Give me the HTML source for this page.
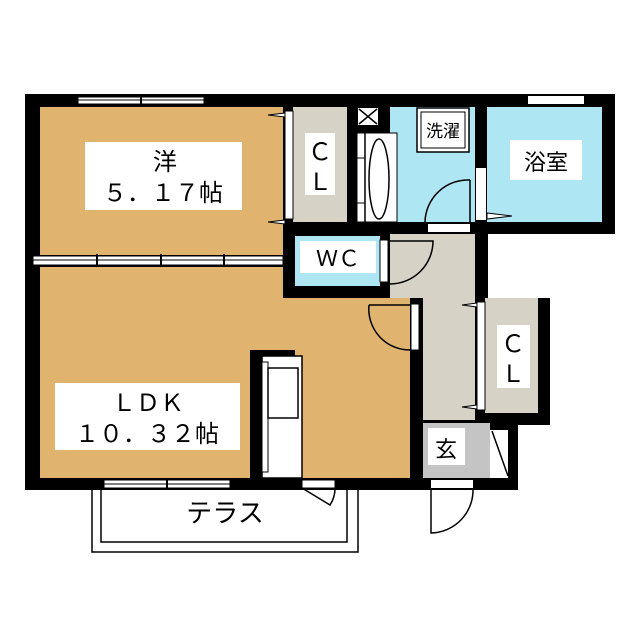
<!DOCTYPE html>
<html><head><meta charset="utf-8"><style>html,body{margin:0;padding:0;background:#fff}svg{display:block}text{font-family:"Liberation Sans","Noto Sans CJK JP",sans-serif;fill:#000}</style></head><body>
<svg width="640" height="640" viewBox="0 0 640 640" xmlns="http://www.w3.org/2000/svg">
<rect x="92" y="482" width="266" height="70" fill="#fff" stroke="#000" stroke-width="1.5"/>
<rect x="101" y="482" width="246" height="60" fill="#fff" stroke="#000" stroke-width="1.5"/>
<text x="225" y="522" font-size="26" text-anchor="middle">テラス</text>
<path d="M25 94 H615 V234 H488 V298 H550 V425 H518 V490 H25 Z" fill="#000"/>
<rect x="40" y="107" width="243" height="148" fill="#e0b46e"/>
<path d="M40 267 H283 V298 H410 V478 H40 Z" fill="#e0b46e"/>
<rect x="250" y="350" width="45" height="12" fill="#000"/>
<rect x="250" y="350" width="12" height="128" fill="#000"/>
<rect x="262" y="356" width="40" height="122" fill="#fff" stroke="#000" stroke-width="1.5"/>
<rect x="262" y="362" width="6" height="110" fill="#fff" stroke="#000" stroke-width="1"/>
<rect x="268" y="368" width="30" height="50" fill="#fff" stroke="#000" stroke-width="1.5"/>
<rect x="293" y="107" width="54" height="115" fill="#d6d2c6"/>
<rect x="285" y="111" width="8" height="108" fill="#fff" stroke="#000" stroke-width="1"/>
<rect x="390" y="107" width="85" height="115" fill="#aee6f4"/>
<rect x="357" y="133" width="40" height="89" fill="#fff" stroke="#000" stroke-width="1"/>
<line x1="365" y1="133" x2="365" y2="222" stroke="#000" stroke-width="1.5"/>
<line x1="357" y1="158" x2="365" y2="158" stroke="#000"/><line x1="357" y1="203" x2="365" y2="203" stroke="#000"/>
<ellipse cx="379" cy="179" rx="10" ry="40" fill="none" stroke="#000" stroke-width="1.5"/>
<rect x="358" y="108" width="20" height="17" fill="#fff"/>
<path d="M359 109 L377 124 M377 109 L359 124" stroke="#000" stroke-width="1.5"/>
<rect x="417" y="108" width="52" height="44" fill="#fff" stroke="#000" stroke-width="1.5"/>
<rect x="421" y="112" width="44" height="36" fill="#fff" stroke="#000" stroke-width="1"/>
<text x="443" y="137" font-size="17" text-anchor="middle">洗濯</text>
<path d="M470 180 A43 43 0 0 0 425 222" fill="none" stroke="#000" stroke-width="1.5"/>
<line x1="470" y1="180" x2="470" y2="222" stroke="#000" stroke-width="1.5"/>
<rect x="487" y="107" width="115" height="115" fill="#aee6f4"/>
<rect x="476" y="168" width="10" height="52" fill="#fff"/>
<path d="M487 213 L512 216 L487 219 Z" fill="#fff" stroke="#000" stroke-width="1"/>
<rect x="528" y="96" width="56" height="8" fill="#fff"/>
<rect x="510" y="140" width="72" height="40" fill="#fff"/>
<text x="546" y="170" font-size="22" text-anchor="middle">浴室</text>
<rect x="390" y="234" width="85" height="64" fill="#d6d2c6"/>
<rect x="423" y="298" width="52" height="122" fill="#d6d2c6"/>
<rect x="428" y="224" width="42" height="8" fill="#fff"/>
<rect x="295" y="236" width="85" height="50" fill="#aee6f4"/>
<rect x="380" y="240" width="8" height="42" fill="#fff" stroke="#000" stroke-width="1"/>
<path d="M390 241 H433 A43 43 0 0 1 390 284" fill="none" stroke="#000" stroke-width="1.5"/>
<rect x="300" y="241" width="76" height="32" fill="#fff"/>
<text x="338" y="266" font-size="22" text-anchor="middle">ＷＣ</text>
<rect x="411" y="304" width="8" height="46" fill="#fff" stroke="#000" stroke-width="1"/>
<path d="M369 305 H410 M369 305 A41 41 0 0 0 410 350" fill="none" stroke="#000" stroke-width="1.5"/>
<rect x="485" y="298" width="53" height="115" fill="#d6d2c6"/>
<rect x="477" y="302" width="8" height="108" fill="#fff" stroke="#000" stroke-width="1"/>
<path d="M477 303 L462 305 L477 307 Z M477 405 L462 407 L477 409 Z" fill="#fff" stroke="#000" stroke-width="1"/>
<rect x="497" y="325" width="33" height="63" fill="#fff"/>
<text x="513" y="352" font-size="24" text-anchor="middle">Ｃ</text>
<text x="513" y="382" font-size="24" text-anchor="middle">Ｌ</text>
<rect x="423" y="423" width="67" height="55" fill="#c4c4c4"/>
<rect x="490" y="430" width="18" height="48" fill="#fff"/>
<line x1="492" y1="431" x2="508" y2="476" stroke="#000" stroke-width="1.5"/>
<rect x="428" y="428" width="37" height="37" fill="#fff"/>
<text x="446" y="457" font-size="22" text-anchor="middle">玄</text>
<rect x="431" y="480" width="42" height="8" fill="#fff"/>
<path d="M431 488 V533 A43 43 0 0 0 473 488" fill="none" stroke="#000" stroke-width="1.5"/>
<rect x="305" y="133" width="30" height="62" fill="#fff"/>
<text x="320" y="160" font-size="24" text-anchor="middle">Ｃ</text>
<text x="320" y="190" font-size="24" text-anchor="middle">Ｌ</text>
<path d="M285 113 L268 115 L285 117 Z M285 220 L268 222 L285 224 Z" fill="#fff" stroke="#000" stroke-width="1"/>
<rect x="78" y="97" width="126" height="7" fill="#fff" stroke="#000" stroke-width="1"/>
<line x1="78" y1="100" x2="204" y2="100" stroke="#000"/><line x1="141" y1="95" x2="141" y2="106" stroke="#000" stroke-width="2"/>
<rect x="33" y="256" width="250" height="9" fill="#fff" stroke="#000" stroke-width="1"/>
<line x1="33" y1="260" x2="283" y2="260" stroke="#000"/>
<line x1="97" y1="254" x2="97" y2="267" stroke="#000" stroke-width="2"/><line x1="161" y1="254" x2="161" y2="267" stroke="#000" stroke-width="2"/><line x1="224" y1="254" x2="224" y2="267" stroke="#000" stroke-width="2"/>
<rect x="104" y="480" width="126" height="8" fill="#fff" stroke="#000" stroke-width="1"/>
<line x1="104" y1="484" x2="230" y2="484" stroke="#000"/><line x1="167" y1="479" x2="167" y2="490" stroke="#000" stroke-width="2"/>
<rect x="302" y="480" width="33" height="8" fill="#fff" stroke="#000" stroke-width="1"/>
<path d="M302 488 L330 505 A30 30 0 0 0 335 488" fill="none" stroke="#000" stroke-width="1.5"/>
<rect x="85" y="142" width="157" height="68" fill="#fff"/>
<text x="165" y="170" font-size="24" text-anchor="middle">洋</text>
<text x="163" y="201" font-size="24" text-anchor="middle">５．１７帖</text>
<rect x="55" y="383" width="185" height="67" fill="#fff"/>
<text x="148" y="411" font-size="24" text-anchor="middle">ＬＤＫ</text>
<text x="147" y="442" font-size="24" text-anchor="middle">１０．３２帖</text>
</svg>
</body></html>
